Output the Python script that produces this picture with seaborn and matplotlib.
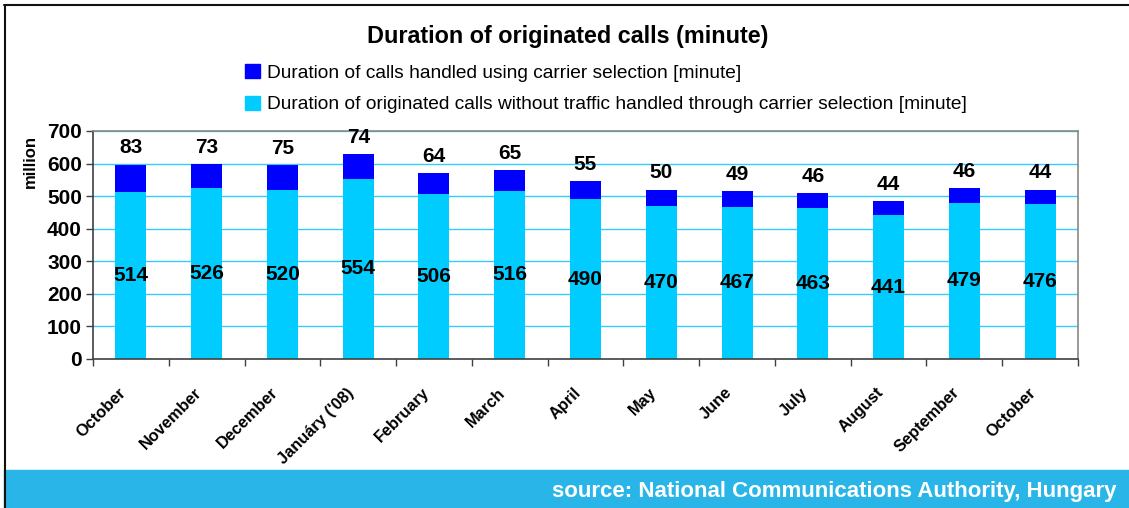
import pandas as pd
import matplotlib.pyplot as plt
import matplotlib.transforms as mtransforms
from matplotlib.patches import Rectangle, Patch
from matplotlib.lines import Line2D
import seaborn as sns

months = ["October", "November", "December", "Januáry ('08)", "February", "March", "April",
          "May", "June", "July", "August", "September", "October"]
without_cs = [514, 526, 520, 554, 506, 516, 490, 470, 467, 463, 441, 479, 476]
carrier_sel = [83, 73, 75, 74, 64, 65, 55, 50, 49, 46, 44, 46, 44]

lab_carrier = "Duration of calls handled using carrier selection [minute]"
lab_without = "Duration of originated calls without traffic handled through carrier selection [minute]"

df = pd.DataFrame({"pos": range(len(months)), "without": without_cs, "carrier": carrier_sel})
df["total"] = df["without"] + df["carrier"]

sns.set_style("white")
plt.rcParams["font.family"] = ["Liberation Sans", "DejaVu Sans"]
plt.rcParams["text.color"] = "black"
plt.rcParams["xtick.color"] = "black"
plt.rcParams["ytick.color"] = "black"

dark = "#0000ff"
light = "#00ccff"

fig = plt.figure(figsize=(11.29, 5.08), dpi=100)
ax = fig.add_axes([93 / 1129, 1 - 359 / 508, 985 / 1129, 228 / 508])

sns.barplot(data=df, x="pos", y="total", color=dark, saturation=1, width=0.41,
            linewidth=0, edgecolor="none", ax=ax)
sns.barplot(data=df, x="pos", y="without", color=light, saturation=1, width=0.41,
            linewidth=0, edgecolor="none", ax=ax)

ax.set_ylim(0, 700)
ax.set_xlim(-0.5, len(months) - 0.5)
ax.set_yticks(range(0, 701, 100))
ax.yaxis.grid(True, color="#33ccff", linewidth=1)
ax.set_axisbelow(True)
ax.set_xlabel("")
ax.set_ylabel("")

for sp in ["top", "right"]:
    ax.spines[sp].set_color("#888888")
    ax.spines[sp].set_linewidth(1.2)
for sp in ["left", "bottom"]:
    ax.spines[sp].set_color("#404040")
    ax.spines[sp].set_linewidth(1.2)

ax.tick_params(axis="y", left=True, length=5, width=1, color="#404040", pad=3, labelsize=15)
for t in ax.get_yticklabels():
    t.set_fontweight("bold")

# category ticks sit between the bars
ax.set_xticks([i - 0.5 for i in range(len(months) + 1)], minor=True)
ax.tick_params(axis="x", which="minor", bottom=True, length=5, width=1, color="#404040")
ax.tick_params(axis="x", which="major", bottom=False, pad=19)
ax.set_xticks(range(len(months)))
ax.set_xticklabels(months, rotation=45, ha="right", va="center", rotation_mode="anchor",
                   fontsize=11.8, fontweight="bold")
offset = mtransforms.ScaledTranslation(-7 / 100, 0, fig.dpi_scale_trans)
for t in ax.get_xticklabels():
    t.set_transform(t.get_transform() + offset)

for i, row in df.iterrows():
    ax.annotate(str(row["carrier"]), (i, row["total"]), xytext=(0, 12), textcoords="offset points",
                ha="center", va="center", fontsize=15, fontweight="bold")
    ax.text(i, row["without"] / 2, str(row["without"]), ha="center", va="center",
            fontsize=15, fontweight="bold")

fig.text(568 / 1129, 1 - 37 / 508, "Duration of originated calls (minute)", ha="center", va="center",
         fontsize=16.8, fontweight="bold")
fig.text(30 / 1129, 1 - 161 / 508, "million", rotation=90, ha="center", va="center",
         fontsize=12, fontweight="bold")

handles = [Patch(color=dark, label=lab_carrier), Patch(color=light, label=lab_without)]
fig.legend(handles=handles, loc="upper left", bbox_to_anchor=(228 / 1129, 1 - 47 / 508),
           frameon=False, fontsize=13.8, handlelength=0.75, handleheight=0.75,
           handletextpad=0.4, labelspacing=0.72)

# footer band and frame
fig.patches.append(Rectangle((4 / 1129, 0), 1, 38 / 508, transform=fig.transFigure,
                             color="#29b5e8", zorder=0))
fig.text(1117 / 1129, 1 - 491 / 508, "source: National Communications Authority, Hungary",
         ha="right", va="center", color="white", fontsize=16, fontweight="bold")
fig.lines.append(Line2D([4.5 / 1129, 4.5 / 1129], [0, 1 - 5 / 508], transform=fig.transFigure,
                        color="#111111", linewidth=1.5))
fig.lines.append(Line2D([4 / 1129, 1], [1 - 5 / 508, 1 - 5 / 508], transform=fig.transFigure,
                        color="#111111", linewidth=1.5))

fig.savefig("out.png", dpi=100)
